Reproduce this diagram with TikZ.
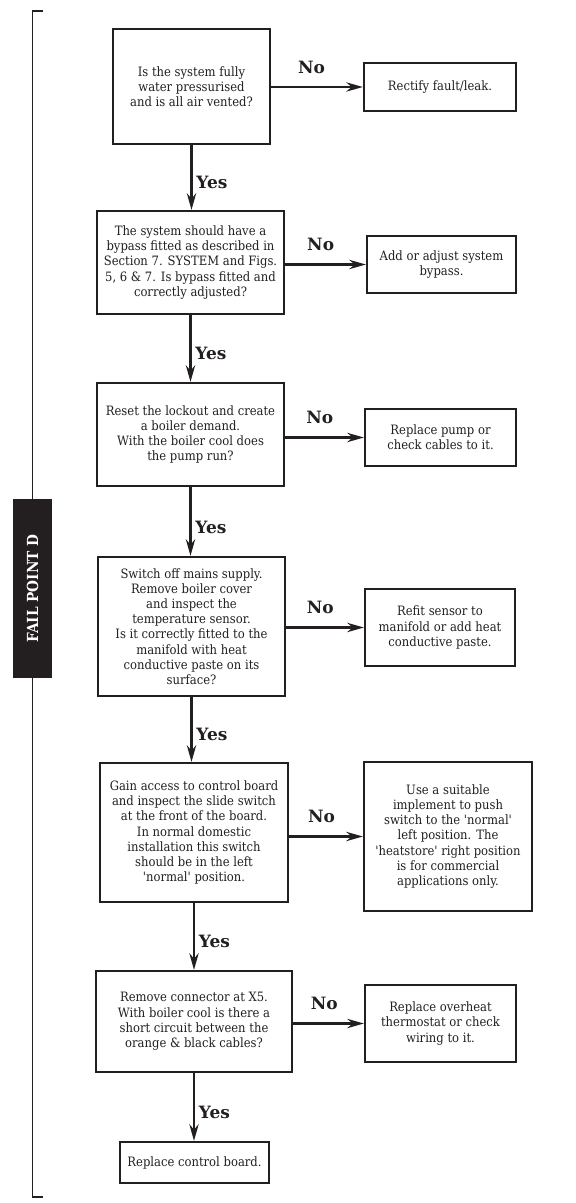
\documentclass[tikz,border=0pt]{standalone}
\usepackage{fontspec}
\setmainfont{DejaVu Serif Condensed}
\newfontfamily\labelfont{DejaVu Serif}
\usepackage{tikz}
\usetikzlibrary{arrows.meta, calc}
\definecolor{ink}{RGB}{35,31,32}

\begin{document}
\begin{tikzpicture}[
    question/.style={rectangle, draw=ink, line width=1.9pt, align=center, inner sep=2pt, text=ink, font=\fontsize{11}{13}\selectfont},
    action/.style={question},
    arrow/.style={-{Stealth[length=5mm, width=2.8mm]}, line width=1.8pt, draw=ink},
    yes/.style={text=ink, font=\labelfont\bfseries\fontsize{14.5}{14.5}\selectfont},
    no/.style={yes},
    bracket/.style={line width=1.7pt, draw=ink},
    tab/.style={fill=ink, text=white, inner sep=0pt, font=\bfseries\fontsize{13}{13}\selectfont}
]
\useasboundingbox (0,0) rectangle (17.25,-36.09);

% Side bracket
\coordinate (btop) at (0.975,-0.33);
\coordinate (bbot) at (0.975,-35.91);
\draw[bracket] ($(btop)+(0.315,0)$) -- (btop) -- (bbot) -- ($(bbot)+(0.315,0)$);
\node[tab, rotate=90, minimum width=5.37cm, minimum height=1.17cm] (fail) at (0.975,-17.655) {FAIL POINT D};

% Questions
\node[question, minimum width=4.71cm, minimum height=3.45cm] (q1) at (5.745,-2.595) {Is the system fully\\ water pressurised\\ and is all air vented?};
\node[question, minimum width=5.61cm, minimum height=3.09cm] (q2) at (5.715,-7.875) {The system should have a\\ bypass fitted as described in\\ Section 7. SYSTEM and Figs.\\ 5, 6 \& 7. Is bypass fitted and\\ correctly adjusted?};
\node[question, minimum width=5.61cm, minimum height=3.09cm] (q3) at (5.715,-13.035) {Reset the lockout and create\\ a boiler demand.\\ With the boiler cool does\\ the pump run?};
\node[question, minimum width=5.61cm, minimum height=4.17cm] (q4) at (5.745,-18.795) {Switch off mains supply.\\ Remove boiler cover\\ and inspect the\\ temperature sensor.\\ Is it correctly fitted to the\\ manifold with heat\\ conductive paste on its\\ surface?};
\node[question, minimum width=5.64cm, minimum height=4.17cm] (q5) at (5.82,-24.975) {Gain access to control board\\ and inspect the slide switch\\ at the front of the board.\\ In normal domestic\\ installation this switch\\ should be in the left\\ \textquotesingle normal\textquotesingle\ position.};
\node[question, minimum width=5.88cm, minimum height=3.03cm] (q6) at (5.82,-30.645) {Remove connector at X5.\\ With boiler cool is there a\\ short circuit between the\\ orange \& black cables?};
\node[action, minimum width=4.47cm, minimum height=1.23cm] (fix) at (5.835,-34.875) {Replace control board.};

% Actions
\node[action, minimum width=4.56cm, minimum height=1.44cm] (r1) at (13.2,-2.61) {Rectify fault/leak.};
\node[action, minimum width=4.47cm, minimum height=1.71cm] (r2) at (13.245,-7.935) {Add or adjust system\\ bypass.};
\node[action, minimum width=4.53cm, minimum height=1.71cm] (r3) at (13.215,-13.125) {Replace pump or\\ check cables to it.};
\node[action, minimum width=4.5cm, minimum height=2.31cm] (r4) at (13.2,-18.825) {Refit sensor to\\ manifold or add heat\\ conductive paste.};
\node[action, minimum width=5.04cm, minimum height=4.47cm] (r5) at (13.44,-25.095) {Use a suitable\\ implement to push\\ switch to the \textquotesingle normal\textquotesingle\\ left position. The\\ \textquotesingle heatstore\textquotesingle\ right position\\ is for commercial\\ applications only.};
\node[action, minimum width=4.53cm, minimum height=2.31cm] (r6) at (13.215,-30.705) {Replace overheat\\ thermostat or check\\ wiring to it.};

% Yes
\draw[arrow] (q1.south) -- node[yes, right, pos=0.58] {Yes} (q1.south |- q2.north);
\draw[arrow] (q2.south) -- node[yes, right, pos=0.58] {Yes} (q2.south |- q3.north);
\draw[arrow] (q3.south) -- node[yes, right, pos=0.58] {Yes} (q3.south |- q4.north);
\draw[arrow] (q4.south) -- node[yes, right, pos=0.58] {Yes} (q4.south |- q5.north);
\draw[arrow] (q5.south) -- node[yes, right, pos=0.58] {Yes} (q5.south |- q6.north);
\draw[arrow] (q6.south) -- node[yes, right, pos=0.58] {Yes} (q6.south |- fix.north);

% No
\draw[arrow] (q1.east |- r1.west) -- node[no, above=2.5mm, pos=0.44] {No} (r1.west);
\draw[arrow] (q2.east |- r2.west) -- node[no, above=2.5mm, pos=0.44] {No} (r2.west);
\draw[arrow] (q3.east |- r3.west) -- node[no, above=2.5mm, pos=0.44] {No} (r3.west);
\draw[arrow] (q4.east |- r4.west) -- node[no, above=2.5mm, pos=0.44] {No} (r4.west);
\draw[arrow] (q5.east |- r5.west) -- node[no, above=2.5mm, pos=0.44] {No} (r5.west);
\draw[arrow] (q6.east |- r6.west) -- node[no, above=2.5mm, pos=0.44] {No} (r6.west);

\end{tikzpicture}
\end{document}
